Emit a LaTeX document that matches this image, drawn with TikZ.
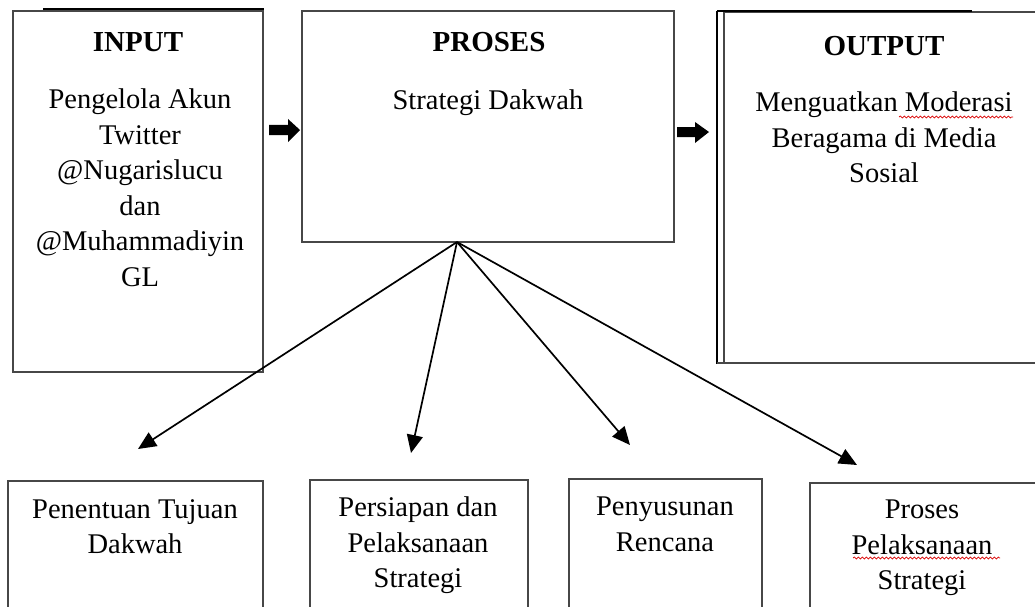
\documentclass[tikz,border=0pt]{standalone}
\usepackage{fontspec}
\setmainfont{Liberation Serif}
\usetikzlibrary{arrows.meta,decorations.pathmorphing}
\begin{document}
\begin{tikzpicture}[x=1pt,y=-1pt,
  box/.style={draw=black!72, line width=1.3pt, anchor=north west, inner sep=0pt, outer sep=0pt},
  lbl/.style={font=\fontsize{28.5}{35.5}\selectfont, align=center, inner sep=0pt, anchor=north},
  ttl/.style={font=\fontsize{29}{35}\selectfont\bfseries, inner sep=0pt, anchor=base},
  spoke/.style={line width=1.7pt, -{Triangle[length=18pt,width=16pt]}},
  blockarrow/.style={fill=black},
  thickedge/.style={line width=2.6pt},
  squiggle/.style={draw=red!85!black, line width=0.7pt, decorate, decoration={snake, amplitude=1pt, segment length=4pt}}
]
\useasboundingbox (0,0) rectangle (1035,607);
\clip (0,0) rectangle (1035,607);

% INPUT box
\node[box, minimum width=250pt, minimum height=361pt] (inbox) at (13,11) {};
\draw[thickedge] (43,9) -- (264,9);
\node[ttl] (intitle) at (138,52) {INPUT};
\node[lbl] (intext) at (140,89) {Pengelola Akun\\Twitter\\@Nugarislucu\\dan\\@Muhammadiyin\\GL};

% PROSES box
\node[box, minimum width=372pt, minimum height=231pt] (prbox) at (302,11) {};
\node[ttl] (prtitle) at (489,52) {PROSES};
\node[lbl] (prtext) at (488,90) {Strategi Dakwah};

% OUTPUT box
\node[box, minimum width=316pt, minimum height=351pt] (outbox) at (724,12) {};
\draw[thickedge] (717,11) -- (717,364);
\draw[thickedge] (717,11) -- (972,11);
\draw[line width=1.3pt, draw=black!72] (717,363) -- (724,363);
\node[ttl] (outtitle) at (884,56) {OUTPUT};
\node[lbl] (outtext) at (884,92) {Menguatkan Moderasi\\Beragama di Media\\Sosial};
\draw[squiggle] (899,117) -- (1013,117);

% block arrows
\fill[blockarrow] (269,125) -- (288,125) -- (288,119) -- (300,130) -- (288,142) -- (288,135) -- (269,135) -- cycle;
\fill[blockarrow] (677,127) -- (695,127) -- (695,122) -- (709,132) -- (695,143) -- (695,137) -- (677,137) -- cycle;

% bottom boxes
\node[box, minimum width=255pt, minimum height=140pt] (b1) at (8,481) {};
\node[lbl] (b1text) at (135,499) {Penentuan Tujuan\\Dakwah};
\node[box, minimum width=218pt, minimum height=140pt] (b2) at (310,480) {};
\node[lbl] (b2text) at (418,497) {Persiapan dan\\Pelaksanaan\\Strategi};
\node[box, minimum width=193pt, minimum height=140pt] (b3) at (569,479) {};
\node[lbl] (b3text) at (665,497) {Penyusunan\\Rencana};
\node[box, minimum width=230pt, minimum height=140pt] (b4) at (810,483) {};
\node[lbl] (b4text) at (922,500) {Proses\\Pelaksanaan\\Strategi};
\draw[squiggle] (853,558) -- (1000,558);

% spokes
\coordinate (hub) at (457,242);
\coordinate (t1) at (138,449);
\coordinate (t2) at (411,453);
\coordinate (t3) at (630,445);
\coordinate (t4) at (857,465);
\draw[spoke] (hub) -- (t1);
\draw[spoke] (hub) -- (t2);
\draw[spoke] (hub) -- (t3);
\draw[spoke] (hub) -- (t4);
\end{tikzpicture}
\end{document}
